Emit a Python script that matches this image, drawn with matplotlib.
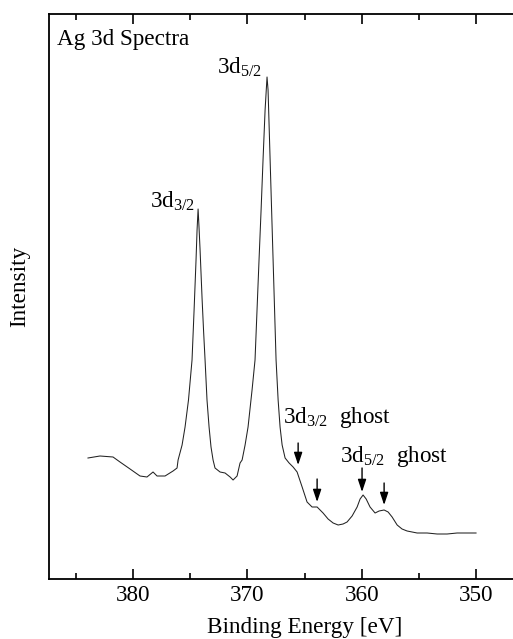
import numpy as np
import matplotlib
matplotlib.use("Agg")
import matplotlib.pyplot as plt

# Ag 3d XPS spectrum
binding_energy = [383.94, 382.89, 381.75, 381.14, 380.26, 379.39, 378.78, 378.25,
                  377.90, 377.20, 376.50, 376.15, 376.06, 375.71, 375.45, 375.15,
                  374.84, 374.66, 374.49, 374.40, 374.31, 374.23, 374.14, 374.05,
                  373.96, 373.83, 373.70, 373.53, 373.35, 373.18, 373.00, 372.83,
                  372.39, 371.95, 371.51, 371.25, 370.90, 370.64, 370.46, 370.20,
                  369.94, 369.59, 369.33, 368.98, 368.80, 368.63, 368.45, 368.28,
                  368.19, 368.01, 367.75, 367.49, 367.31, 367.14, 366.96, 366.70,
                  366.35, 366.00, 365.65, 365.21, 364.78, 364.34, 363.90, 363.38,
                  362.94, 362.50, 362.06, 361.63, 361.28, 360.84, 360.40, 360.14,
                  359.88, 359.61, 359.27, 358.83, 358.48, 358.04, 357.69, 357.34,
                  356.90, 356.47, 356.03, 355.15, 354.28, 353.40, 352.53, 351.65,
                  350.78, 350.00]
intensity = [121, 123, 122, 117, 110, 103, 102, 107,
             103, 103, 108, 111, 119, 134, 152, 179,
             219, 269, 319, 349, 370, 352, 330, 305,
             280, 248, 219, 179, 152, 132, 119, 111,
             107, 106, 102, 99, 103, 116, 119, 134,
             152, 189, 219, 319, 369, 419, 469, 502,
             489, 419, 319, 219, 179, 152, 134, 121,
             116, 112, 107, 92, 77, 72, 72, 66,
             60, 56, 54, 55, 57, 63, 72, 80,
             84, 80, 72, 66, 68, 69, 67, 62,
             54, 50, 48, 46, 46, 45, 45, 46,
             46, 46]

# ghost arrows: position, arrow tail and head intensity
arrow_x = [365.56, 363.90, 359.97, 358.04]
arrow_top = [136, 100, 111, 96]
arrow_bottom = [114, 77, 87, 74]

plt.rcParams["font.family"] = ["Liberation Serif", "DejaVu Serif"]
plt.rcParams["mathtext.fontset"] = "custom"
plt.rcParams["mathtext.rm"] = "Liberation Serif"
plt.rcParams["mathtext.it"] = "Liberation Serif:italic"

W, H = 513, 639
fig = plt.figure(figsize=(W / 100, H / 100), dpi=100)
ax = fig.add_axes([49 / W, 60 / H, 481 / W, 565 / H])

ax.plot(binding_energy, intensity, color="#222222", lw=0.75)

for x, y0, y1 in zip(arrow_x, arrow_top, arrow_bottom):
    ax.annotate("", xy=(x, y1), xytext=(x, y0),
                arrowprops=dict(arrowstyle="-|>,head_length=0.75,head_width=0.25",
                                color="black", lw=1.0, shrinkA=0, shrinkB=0))

fs = 16.7
ax.text(386.65, 540, "Ag 3d Spectra", fontsize=fs, va="center", ha="left")
ax.text(372.65, 505, r"3d$_{\mathrm{5/2}}$", fontsize=fs, va="baseline", ha="left")
ax.text(378.51, 371, r"3d$_{\mathrm{3/2}}$", fontsize=fs, va="baseline", ha="left")
ax.text(366.88, 156, r"3d$_{\mathrm{3/2}}$  ghost", fontsize=fs, va="baseline", ha="left")
ax.text(361.89, 117, r"3d$_{\mathrm{5/2}}$  ghost", fontsize=fs, va="baseline", ha="left")

ax.set_xlim(387.35, 345.28)
ax.set_ylim(0, 565)
ax.set_xticks([380, 370, 360, 350])
ax.set_xticks([385, 375, 365, 355], minor=True)
ax.set_yticks([])
ax.tick_params(axis="x", which="both", direction="in", top=True, bottom=True,
               width=1.2, labelsize=fs, pad=4.5)
ax.tick_params(axis="x", which="major", length=7.5)
ax.tick_params(axis="x", which="minor", length=4)
for s in ax.spines.values():
    s.set_linewidth(1.3)

ax.set_xlabel("Binding Energy [eV]", fontsize=fs)
ax.xaxis.set_label_coords((305 - 49) / 481, -(628 - 579) / 565)
ax.xaxis.label.set_va("center")
ax.set_ylabel("Intensity", fontsize=fs)
ax.yaxis.set_label_coords(-(49 - 20) / 481, (579 - 286) / 565)
ax.yaxis.label.set_va("center")

fig.savefig("out.png", dpi=100)
